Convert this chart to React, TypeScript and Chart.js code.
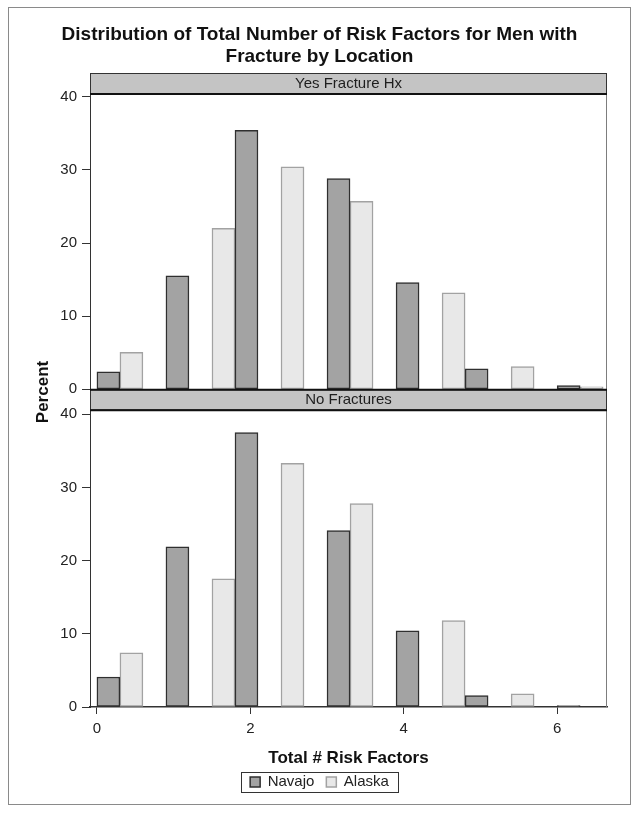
import React, { useEffect, useRef } from "react";
import { Chart, registerables } from "chart.js";

Chart.register(...registerables);

// ---- data ----
const titleLines = ["Distribution of Total Number of Risk Factors for Men with", "Fracture by Location"];
const panelLabels = ["Yes Fracture Hx", "No Fractures"];
const seriesNames = ["Navajo", "Alaska"];
const navajoX = [0.15, 1.05, 1.95, 3.15, 4.05, 4.95, 6.15];
const alaskaX = [0.45, 1.65, 2.55, 3.45, 4.65, 5.55, 6.45];
const yesNavajo = [2.4, 15.5, 35.4, 28.8, 14.6, 2.8, 0.5];
const yesAlaska = [5.05, 22.0, 30.4, 25.7, 13.2, 3.1, 0.35];
const noNavajo = [4.1, 21.9, 37.5, 24.1, 10.4, 1.55, 0.2];
const noAlaska = [7.4, 17.5, 33.3, 27.8, 11.8, 1.8, 0];
const xTicks = [0, 2, 4, 6];
const yTicks = [0, 10, 20, 30, 40];
const xTitle = "Total # Risk Factors";
const yTitle = "Percent";

const FAMILY = "'Liberation Sans', Arial, Helvetica, sans-serif";
const NAVAJO_BG = "#a3a3a3";
const NAVAJO_BD = "#2f2f2f";
const ALASKA_BG = "#e8e8e8";
const ALASKA_BD = "#a2a2a2";
const HEADER_H = 21;

const pts = (xs: number[], ys: number[]) => xs.map((x, i) => ({ x, y: ys[i] }));

const framePlugin = {
  id: "frames",
  beforeDraw(chart: any) {
    const { ctx, width, height } = chart;
    ctx.save();
    ctx.fillStyle = "#ffffff";
    ctx.fillRect(0, 0, width, height);
    ctx.restore();
  },
  afterDraw(chart: any) {
    const { ctx, chartArea } = chart;
    const yU = chart.scales.yU;
    const yL = chart.scales.yL;
    const left = chartArea.left;
    const right = chartArea.right;
    ctx.save();
    // outer frame
    ctx.strokeStyle = "#8a8a8a";
    ctx.lineWidth = 1;
    ctx.strokeRect(8.5, 7.5, 622, 797);

    const drawHeader = (top: number, label: string) => {
      ctx.fillStyle = "#c4c4c4";
      ctx.fillRect(left, top, right - left, HEADER_H);
      ctx.strokeStyle = "#333";
      ctx.lineWidth = 1;
      ctx.strokeRect(left + 0.5, top + 0.5, right - left - 1, HEADER_H - 1);
      ctx.strokeStyle = "#111";
      ctx.lineWidth = 2;
      ctx.beginPath();
      ctx.moveTo(left, top + HEADER_H);
      ctx.lineTo(right, top + HEADER_H);
      ctx.stroke();
      ctx.fillStyle = "#1e1e1e";
      ctx.font = `15px ${FAMILY}`;
      ctx.textAlign = "center";
      ctx.textBaseline = "middle";
      ctx.fillText(label, (left + right) / 2, top + HEADER_H / 2 + 0.5);
    };

    // panel right borders
    ctx.strokeStyle = "#7d7d7d";
    ctx.lineWidth = 1;
    ctx.beginPath();
    ctx.moveTo(right - 0.5, yU.top);
    ctx.lineTo(right - 0.5, yU.bottom);
    ctx.moveTo(right - 0.5, yL.top + HEADER_H);
    ctx.lineTo(right - 0.5, yL.bottom);
    ctx.stroke();

    drawHeader(yU.top - HEADER_H, panelLabels[0]);
    drawHeader(yL.top, panelLabels[1]);
    // thick line at bottom of upper panel
    ctx.strokeStyle = "#111";
    ctx.lineWidth = 2;
    ctx.beginPath();
    ctx.moveTo(left, yU.bottom + 0.5);
    ctx.lineTo(right, yU.bottom + 0.5);
    ctx.stroke();

    // y title
    ctx.save();
    ctx.translate(43, (yU.top + yL.bottom) / 2 - 8.5);
    ctx.rotate(-Math.PI / 2);
    ctx.fillStyle = "#111";
    ctx.font = `bold 17px ${FAMILY}`;
    ctx.textAlign = "center";
    ctx.textBaseline = "middle";
    ctx.fillText(yTitle, 0, 0);
    ctx.restore();

    // legend border
    const lg = chart.legend;
    if (lg && lg.legendHitBoxes && lg.legendHitBoxes.length) {
      const hb = lg.legendHitBoxes;
      const l = Math.min(...hb.map((h: any) => h.left)) - 9;
      const r = Math.max(...hb.map((h: any) => h.left + h.width)) + 9;
      const cy = hb[0].top + hb[0].height / 2;
      ctx.strokeStyle = "#333";
      ctx.lineWidth = 1;
      ctx.strokeRect(Math.round(l) + 0.5, Math.round(cy - 10.5) + 0.5, Math.round(r - l), 20);
    }
    ctx.restore();
  },
};

export default function App() {
  const ref = useRef<HTMLCanvasElement | null>(null);
  useEffect(() => {
    if (!ref.current) return;
    const tickFont = { family: FAMILY, size: 15 };
    const yCommon = (stackWeight: number, max: number) => ({
      type: "linear" as const,
      position: "left" as const,
      stack: "panels",
      stackWeight,
      min: 0,
      max,
      afterBuildTicks: (s: any) => {
        s.ticks = yTicks.map((v) => ({ value: v }));
      },
      afterFit: (s: any) => {
        s.width = 58;
      },
      ticks: { font: tickFont, color: "#222", padding: 5 },
      grid: { drawOnChartArea: false, drawTicks: true, tickLength: 8, color: "#333", lineWidth: 1, offset: false },
      border: { display: true, color: "#333", width: 1 },
    });
    const chart = new Chart(ref.current, {
      type: "bar",
      data: {
        datasets: [
          { label: seriesNames[0], data: pts(navajoX, yesNavajo), yAxisID: "yU", backgroundColor: NAVAJO_BG, borderColor: NAVAJO_BD, borderWidth: 1.5 },
          { label: seriesNames[1], data: pts(alaskaX, yesAlaska), yAxisID: "yU", backgroundColor: ALASKA_BG, borderColor: ALASKA_BD, borderWidth: 1.5 },
          { label: seriesNames[0], data: pts(navajoX, noNavajo), yAxisID: "yL", backgroundColor: NAVAJO_BG, borderColor: NAVAJO_BD, borderWidth: 1.5 },
          { label: seriesNames[1], data: pts(alaskaX, noAlaska), yAxisID: "yL", backgroundColor: ALASKA_BG, borderColor: ALASKA_BD, borderWidth: 1.5 },
        ] as any,
      },
      options: {
        animation: false,
        responsive: false,
        devicePixelRatio: 1,
        events: [],
        datasets: {
          bar: { grouped: false, barPercentage: 1, categoryPercentage: 1, borderSkipped: false } as any,
        },
        layout: { padding: { top: 0, left: 32, right: 32, bottom: 13.5 } },
        scales: {
          x: {
            type: "linear",
            min: -0.09,
            max: 6.65,
            offset: false,
            afterBuildTicks: (s: any) => {
              s.ticks = xTicks.map((v) => ({ value: v }));
            },
            afterFit: (s: any) => {
              s.height = 55.5;
            },
            ticks: { font: tickFont, color: "#222", padding: 6 },
            grid: { drawOnChartArea: false, drawTicks: true, tickLength: 7, color: "#333", lineWidth: 1, offset: false },
            border: { display: true, color: "#333", width: 1.5 },
            title: {
              display: true,
              text: xTitle,
              color: "#111",
              font: { family: FAMILY, size: 17, weight: "bold" },
              padding: { top: 0, bottom: -5.7 },
            },
          } as any,
          yL: yCommon(317.7, 43.42) as any,
          yU: yCommon(295.3, 40.37) as any,
        },
        plugins: {
          tooltip: { enabled: false },
          title: {
            display: true,
            text: titleLines,
            color: "#111",
            font: { family: FAMILY, size: 19, weight: "bold", lineHeight: "22px" } as any,
            padding: { top: 24, bottom: 26 },
          },
          legend: {
            display: true,
            position: "bottom",
            labels: {
              filter: (item: any) => item.datasetIndex < 2,
              boxWidth: 10,
              boxHeight: 10,
              padding: 12,
              color: "#222",
              font: { family: FAMILY, size: 15 },
            },
          },
        },
      },
      plugins: [framePlugin],
    });
    return () => chart.destroy();
  }, []);
  return (
    <div style={{ position: "absolute", left: 0, top: 0, width: 639, height: 813 }}>
      <canvas ref={ref} width={639} height={813} style={{ display: "block" }} />
    </div>
  );
}
